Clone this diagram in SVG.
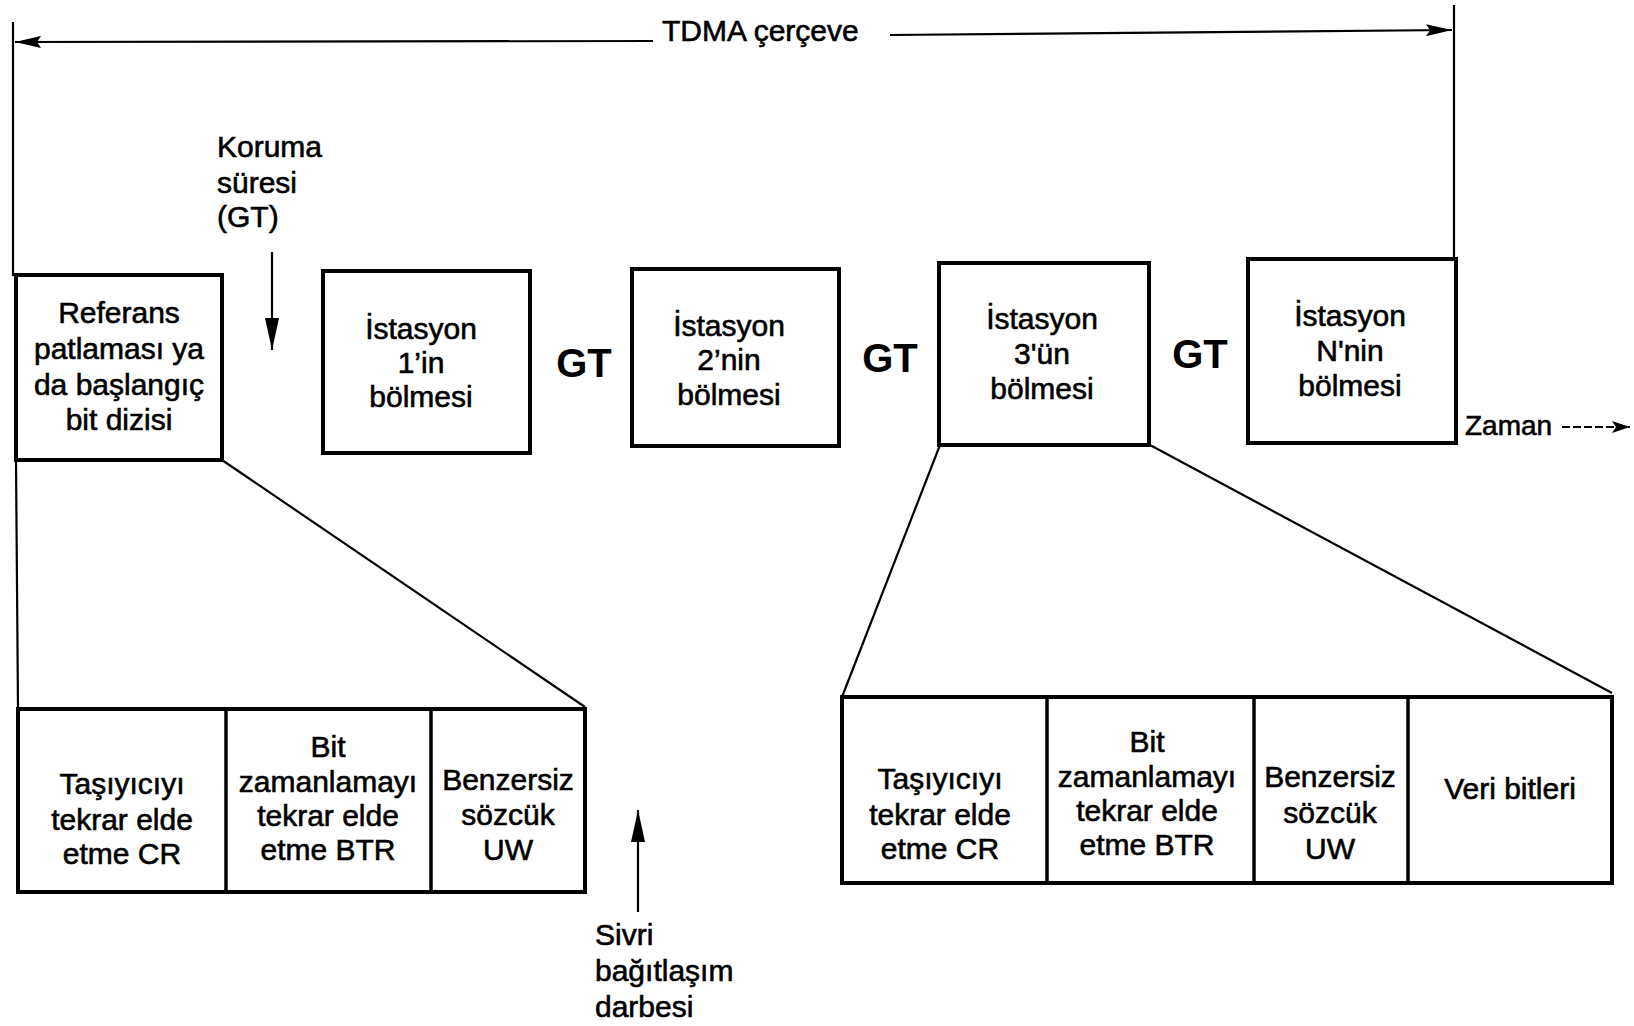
<svg xmlns="http://www.w3.org/2000/svg" width="1634" height="1026" viewBox="0 0 1634 1026">
<style>
  .box { fill: none; stroke: #000; stroke-width: 4; }
  .div { fill: none; stroke: #000; stroke-width: 3.5; }
  .ln { fill: none; stroke: #000; stroke-width: 2.2; }
  text { font-family: "Liberation Sans", Arial, sans-serif; font-size: 30px; fill: #000; stroke: #000; stroke-width: 0.6; }
  .c { text-anchor: middle; }
  .gt { font-size: 40px; font-weight: bold; stroke-width: 0; }
</style>
<defs>
  <marker id="arr" viewBox="0 0 26 12" refX="26" refY="6" markerWidth="26" markerHeight="12" markerUnits="userSpaceOnUse" orient="auto">
    <path d="M0,0 L26,6 L0,12 L4,6 z" fill="#000"/>
  </marker>
  <marker id="arrV" viewBox="0 0 32 14" refX="32" refY="7" markerWidth="32" markerHeight="14" markerUnits="userSpaceOnUse" orient="auto">
    <path d="M0,0 L32,7 L0,14 z" fill="#000"/>
  </marker>
  <marker id="arrS" viewBox="0 0 18 12" refX="18" refY="6" markerWidth="18" markerHeight="12" markerUnits="userSpaceOnUse" orient="auto">
    <path d="M0,0 L18,6 L0,12 L4,6 z" fill="#000"/>
  </marker>
</defs>
<rect width="1634" height="1026" fill="#fff"/>

<g id="connectors">
  <!-- TDMA frame dimension -->
  <line class="ln" x1="653" y1="41" x2="15" y2="42" marker-end="url(#arr)"/>
  <line class="ln" x1="890" y1="35" x2="1452" y2="30" marker-end="url(#arr)"/>
  <line class="ln" x1="13" y1="22" x2="13" y2="276"/>
  <line class="ln" x1="1454" y1="5" x2="1454" y2="259"/>
  <!-- guard time arrow -->
  <line class="ln" x1="272" y1="252" x2="272" y2="350" marker-end="url(#arrV)"/>
  <!-- expansion of reference burst -->
  <line class="ln" x1="16" y1="460" x2="18" y2="709"/>
  <line class="ln" x1="222" y1="460" x2="585" y2="707"/>
  <!-- expansion of station 3 -->
  <line class="ln" x1="940" y1="445" x2="842" y2="697"/>
  <line class="ln" x1="1150" y1="445" x2="1612" y2="693"/>
  <!-- correlation spike arrow -->
  <line class="ln" x1="638" y1="912" x2="638" y2="810" marker-end="url(#arrV)"/>
  <!-- time arrow -->
  <line class="ln" x1="1562" y1="427" x2="1630" y2="427" stroke-dasharray="8 3" marker-end="url(#arrS)"/>
</g>

<g id="tdma-label">
  <text x="662" y="41">TDMA çerçeve</text>
</g>

<g id="guard-label">
  <text x="217" y="157">Koruma</text>
  <text x="217" y="193">süresi</text>
  <text x="217" y="227">(GT)</text>
</g>

<g id="ref-burst">
  <rect class="box" x="16" y="275" width="206" height="185"/>
  <text class="c" x="119" y="323">Referans</text>
  <text class="c" x="119" y="359">patlaması ya</text>
  <text class="c" x="119" y="395">da başlangıç</text>
  <text class="c" x="119" y="430">bit dizisi</text>
</g>

<g id="station1">
  <rect class="box" x="323" y="271" width="207" height="182"/>
  <text class="c" x="421" y="339">İstasyon</text>
  <text class="c" x="421" y="373">1’in</text>
  <text class="c" x="421" y="407">bölmesi</text>
</g>

<g id="gt1"><text class="c gt" x="584" y="377">GT</text></g>

<g id="station2">
  <rect class="box" x="632" y="269" width="207" height="177"/>
  <text class="c" x="729" y="336">İstasyon</text>
  <text class="c" x="729" y="370">2’nin</text>
  <text class="c" x="729" y="405">bölmesi</text>
</g>

<g id="gt2"><text class="c gt" x="890" y="372">GT</text></g>

<g id="station3">
  <rect class="box" x="939" y="263" width="210" height="182"/>
  <text class="c" x="1042" y="329">İstasyon</text>
  <text class="c" x="1042" y="364">3'ün</text>
  <text class="c" x="1042" y="399">bölmesi</text>
</g>

<g id="gt3"><text class="c gt" x="1200" y="368">GT</text></g>

<g id="stationN">
  <rect class="box" x="1248" y="259" width="208" height="184"/>
  <text class="c" x="1350" y="326">İstasyon</text>
  <text class="c" x="1350" y="361">N'nin</text>
  <text class="c" x="1350" y="396">bölmesi</text>
</g>

<g id="time-label">
  <text x="1465" y="435" style="font-size:28px">Zaman</text>
</g>

<g id="ref-detail">
  <rect class="box" x="18" y="709" width="567" height="183"/>
  <line class="div" x1="226" y1="709" x2="226" y2="892"/>
  <line class="div" x1="431" y1="709" x2="431" y2="892"/>
  <text class="c" x="122" y="794">Taşıyıcıyı</text>
  <text class="c" x="122" y="830">tekrar elde</text>
  <text class="c" x="122" y="864">etme CR</text>
  <text class="c" x="328" y="757">Bit</text>
  <text class="c" x="328" y="792">zamanlamayı</text>
  <text class="c" x="328" y="826">tekrar elde</text>
  <text class="c" x="328" y="860">etme BTR</text>
  <text class="c" x="508" y="790">Benzersiz</text>
  <text class="c" x="508" y="825">sözcük</text>
  <text class="c" x="508" y="860">UW</text>
</g>

<g id="station3-detail">
  <rect class="box" x="842" y="697" width="770" height="186"/>
  <line class="div" x1="1047" y1="697" x2="1047" y2="883"/>
  <line class="div" x1="1254" y1="697" x2="1254" y2="883"/>
  <line class="div" x1="1408" y1="697" x2="1408" y2="883"/>
  <text class="c" x="940" y="789">Taşıyıcıyı</text>
  <text class="c" x="940" y="825">tekrar elde</text>
  <text class="c" x="940" y="859">etme CR</text>
  <text class="c" x="1147" y="752">Bit</text>
  <text class="c" x="1147" y="787">zamanlamayı</text>
  <text class="c" x="1147" y="821">tekrar elde</text>
  <text class="c" x="1147" y="855">etme BTR</text>
  <text class="c" x="1330" y="787">Benzersiz</text>
  <text class="c" x="1330" y="823">sözcük</text>
  <text class="c" x="1330" y="859">UW</text>
  <text class="c" x="1510" y="799">Veri bitleri</text>
</g>

<g id="spike-label">
  <text x="595" y="945">Sivri</text>
  <text x="595" y="981">bağıtlaşım</text>
  <text x="595" y="1017">darbesi</text>
</g>
</svg>
